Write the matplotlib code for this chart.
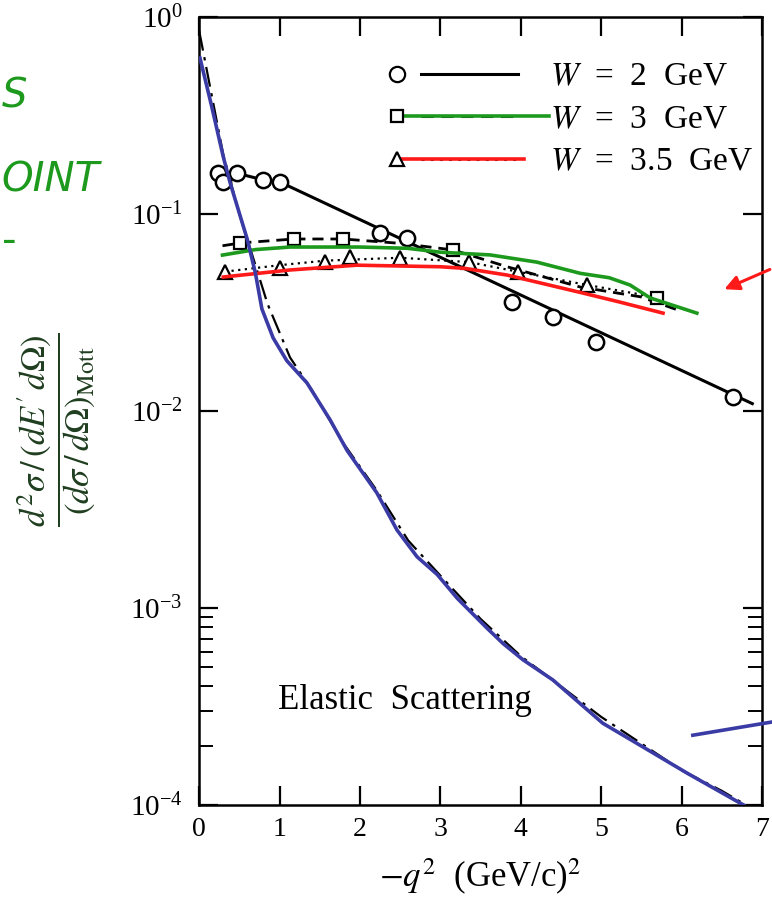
import matplotlib
matplotlib.use("Agg")
import matplotlib.pyplot as plt
from matplotlib.lines import Line2D
from matplotlib.legend_handler import HandlerBase
from matplotlib.ticker import FixedLocator, LogFormatterMathtext, NullFormatter

plt.rcParams["font.family"] = "serif"
plt.rcParams["font.serif"] = ["Liberation Serif", "DejaVu Serif"]
plt.rcParams["mathtext.fontset"] = "stix"

# W = 2 GeV data (circles) and the straight fit through them
q_w2 = [0.24, 0.30, 0.47, 0.80, 1.01, 2.25, 2.59, 3.89, 4.40, 4.94, 6.64]
v_w2 = [0.161, 0.145, 0.161, 0.149, 0.145, 0.080, 0.076, 0.0357, 0.030, 0.0224, 0.0118]
q_w2_fit = [0.24, 0.47, 0.80, 1.01, 6.88]
v_w2_fit = [0.161, 0.161, 0.149, 0.145, 0.0109]

# W = 3 GeV (squares, dashed)
q_w3 = [0.51, 1.18, 1.79, 3.16, 5.70]
v_w3 = [0.0713, 0.0747, 0.0747, 0.0657, 0.0375]
q_w3_fit = [0.29, 0.51, 1.18, 1.79, 2.5, 3.16, 3.83, 4.74, 5.49, 5.95]
v_w3_fit = [0.069, 0.0713, 0.0747, 0.0747, 0.071, 0.0657, 0.054, 0.0426, 0.038, 0.0326]

# W = 3.5 GeV (triangles, dotted)
q_w35 = [0.32, 1.0, 1.57, 1.88, 2.5, 3.36, 3.96, 4.83]
v_w35 = [0.051, 0.053, 0.057, 0.0605, 0.060, 0.057, 0.051, 0.0436]
q_w35_fit = [0.32, 1.0, 1.57, 2.5, 3.36, 3.96, 4.83, 5.5, 5.85]
v_w35_fit = [0.051, 0.055, 0.058, 0.060, 0.057, 0.051, 0.0436, 0.039, 0.035]

# elastic scattering (dash-dot)
q_el = [0.0, 0.3, 0.5, 0.7, 0.85, 1.13, 1.4, 1.8, 2.2, 2.6, 3.0, 3.5, 4.0, 4.5,
        5.0, 5.5, 6.0, 6.5, 6.8]
v_el = [0.85, 0.2, 0.1, 0.055, 0.035, 0.0187, 0.0128, 0.0068, 0.0040, 0.0022,
        0.00146, 0.00088, 0.00057, 0.00040, 0.00028, 0.000205, 0.000150, 0.000118, 0.0001]

# hand-drawn overlays
q_green = [0.29, 0.7, 1.13, 2.0, 2.59, 3.0, 3.62, 4.2, 4.74, 5.1, 5.36, 5.61, 6.19]
v_green = [0.0619, 0.066, 0.068, 0.068, 0.067, 0.064, 0.062, 0.057, 0.050, 0.0475,
           0.0436, 0.0375, 0.0314]
q_red = [0.30, 1.13, 1.96, 3.0, 3.3, 3.83, 4.74, 5.2, 5.77]
v_red = [0.0479, 0.052, 0.055, 0.054, 0.053, 0.049, 0.040, 0.036, 0.0314]
q_blue = [0.01, 0.15, 0.3, 0.385, 0.6, 0.7, 0.78, 0.92, 1.09, 1.34, 1.63, 1.84, 2.21,
          2.46, 2.71, 2.96, 3.21, 3.58, 3.78, 4.03, 4.40, 5.02, 5.52, 6.07, 6.77]
v_blue = [0.62, 0.36, 0.195, 0.144, 0.074, 0.050, 0.0330, 0.0235, 0.018, 0.0139,
          0.0090, 0.0063, 0.00384, 0.00249, 0.00182, 0.00148, 0.00112, 0.00079,
          0.00066, 0.000545, 0.000431, 0.00026, 0.000197, 0.000145, 0.0001]
q_blue_tail = [6.14, 7.13]
v_blue_tail = [2.26e-4, 2.64e-4]
arrow_tip = (6.5, 0.041)
arrow_tail = (7.13, 0.053)

legend_labels = [r"$W$  =  2  GeV", r"$W$  =  3  GeV", r"$W$  =  3.5  GeV"]
minor_ticks = [2e-4, 3e-4, 4e-4, 5e-4, 6e-4, 7e-4, 8e-4, 9e-4]

GREEN = "#1d9a1d"
RED = "#ff1a1a"
BLUE = "#3b3ba6"


class Key:
    def __init__(self, marker, ms, ls, hand_color, hand_from, hand_to):
        self.marker = marker
        self.ms = ms
        self.ls = ls
        self.hand_color = hand_color
        self.hand_from = hand_from
        self.hand_to = hand_to


class KeyHandler(HandlerBase):
    def create_artists(self, legend, key, xd, yd, w, h, fs, trans):
        y = h / 2 - yd
        x0 = -xd
        line = Line2D([x0 + 0.2 * w, x0 + 0.86 * w], [y, y], color="black",
                      ls=key.ls, lw=2.2, transform=trans)
        arts = [line]
        if key.hand_color:
            arts.append(Line2D([x0 + key.hand_from * w, x0 + key.hand_to * w], [y, y],
                               color=key.hand_color, lw=2.6, transform=trans))
        arts.append(Line2D([x0 + 0.03 * w], [y], marker=key.marker, ms=key.ms,
                           mfc="white", mec="black", mew=1.6, ls="none",
                           transform=trans))
        return arts


fig = plt.figure(figsize=(7.72, 8.98), dpi=100)
ax = fig.add_axes([0.258, 0.1036, 0.729, 0.8774])
ax.set_yscale("log")
ax.set_xlim(0, 7)
ax.set_ylim(1e-4, 1)

ax.plot(q_el, v_el, color="black", lw=1.6, ls=(0, (9, 3, 1.5, 3)))
ax.plot(q_w2_fit, v_w2_fit, color="black", lw=2.2)
ax.plot(q_w3_fit, v_w3_fit, color="black", lw=2.0, ls=(0, (4, 2.5)))
ax.plot(q_w35_fit, v_w35_fit, color="black", lw=1.6, ls=(0, (1, 2)))
ax.plot(q_w2, v_w2, "o", ms=11, mfc="white", mec="black", mew=1.8, zorder=4)
ax.plot(q_w3, v_w3, "s", ms=8.5, mfc="white", mec="black", mew=1.6, zorder=4)
ax.plot(q_w35, v_w35, "^", ms=9.5, mfc="white", mec="black", mew=1.6, zorder=4)

ax.plot(q_green, v_green, color=GREEN, lw=2.6, zorder=5)
ax.plot(q_red, v_red, color=RED, lw=2.6, zorder=5)
ax.plot(q_blue, v_blue, color=BLUE, lw=2.6, zorder=5)
ax.plot(q_blue_tail, v_blue_tail, color=BLUE, lw=2.6, zorder=5, clip_on=False)
ax.annotate("", xy=arrow_tip, xytext=arrow_tail, annotation_clip=False,
            arrowprops=dict(arrowstyle="-|>", color=RED, lw=2.2, mutation_scale=22))

ax.text(0.98, 3.4e-4, "Elastic  Scattering", fontsize=25, va="center", ha="left")

keys = [Key("o", 11, "-", None, 0, 0),
        Key("s", 9, (0, (4, 2.5)), GREEN, 0.03, 1.07),
        Key("^", 10, (0, (1, 2)), RED, 0.05, 0.9)]
ax.legend(keys, legend_labels, handler_map={Key: KeyHandler()},
          loc="upper right", bbox_to_anchor=(0.985, 0.943), frameon=False,
          borderpad=0, borderaxespad=0, fontsize=24, handlelength=4.4,
          handletextpad=0.35, labelspacing=0.36)

ax.yaxis.set_minor_locator(FixedLocator(minor_ticks))
ax.yaxis.set_minor_formatter(NullFormatter())
ax.yaxis.set_major_formatter(LogFormatterMathtext())
ax.set_xticks(range(8))
ax.tick_params(which="major", direction="in", length=14, width=1.6,
               top=True, right=True, labelsize=20)
ax.tick_params(axis="x", pad=9)
ax.tick_params(axis="y", pad=12, labelsize=21)
ax.tick_params(which="minor", direction="in", length=10, width=1.4, right=True)
for s in ax.spines.values():
    s.set_linewidth(1.8)

ax.set_xlabel(r"$-q^2$  (GeV/c)$^2$", fontsize=25, labelpad=10)
fig.text(0.074, 0.521,
         r"$\dfrac{d^2\sigma\,/\,(dE'\,d\Omega)}{(d\sigma\,/\,d\Omega)_{\mathrm{Mott}}}$",
         rotation=90, fontsize=25, color="#1f3d1f", ha="center", va="center")

# handwriting on the left margin
fig.text(0.002, 0.80, "OINT", fontsize=29, color=GREEN, style="italic",
         family="DejaVu Sans", ha="left", va="center")
fig.text(0.002, 0.893, "S", fontsize=29, color=GREEN, style="italic",
         family="DejaVu Sans", ha="left", va="center")
fig.text(0.002, 0.73, "-", fontsize=29, color=GREEN,
         family="DejaVu Sans", ha="left", va="center")

fig.savefig("out.png", dpi=100)
